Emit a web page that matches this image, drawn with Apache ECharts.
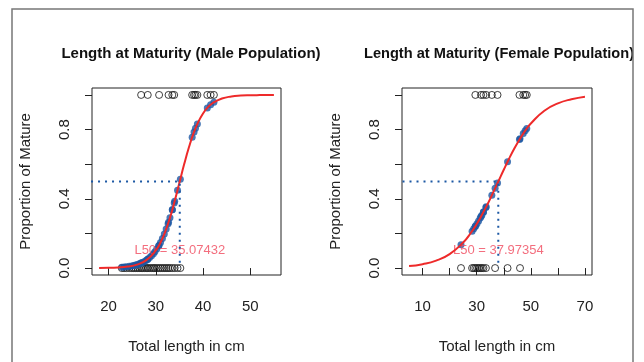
<!DOCTYPE html>
<html>
<head>
<meta charset="utf-8">
<script src="https://cdn.jsdelivr.net/npm/echarts@6/dist/echarts.min.js"></script>
<style>
  html, body { margin: 0; padding: 0; background: #fff; }
  #chart { width: 644px; height: 362px; }
</style>
</head>
<body>
<div id="chart"></div>
<script>
// fitted logistic curves
const maleCurveX = [18, 20, 22, 24, 26, 28, 30, 31, 32, 33, 34, 35, 36, 37, 38, 39, 40, 41, 42, 44, 46, 48, 50, 52, 55];
const maleCurveY = [0.001, 0.0015, 0.0036, 0.0085, 0.0198, 0.0457, 0.102, 0.148, 0.211, 0.291, 0.387, 0.493, 0.599,
  0.696, 0.779, 0.844, 0.893, 0.928, 0.952, 0.979, 0.991, 0.996, 0.998, 0.999, 1.0];
const femaleCurveX = [5, 10, 15, 20, 25, 28, 30, 32, 34, 36, 38, 40, 42, 44, 46, 48, 50, 55, 60, 65, 70];
const femaleCurveY = [0.0115, 0.0224, 0.043, 0.081, 0.148, 0.207, 0.254, 0.309, 0.369, 0.434, 0.501, 0.568, 0.633,
  0.693, 0.747, 0.795, 0.835, 0.909, 0.951, 0.975, 0.99];

// observed lengths (immature = 0, mature = 1) and their fitted proportions
const maleImmLen = [22.8, 23.3, 23.8, 24.4, 24.9, 25.3, 25.7, 26.1, 26.5, 26.9, 27.2, 27.6, 28.0, 28.3, 28.7,
  29.1, 29.5, 29.8, 30.2, 30.6, 31.0, 31.4, 31.8, 32.2, 32.6, 33.0, 33.5, 34.0, 34.6, 35.2];
const maleImmProb = [0.0051, 0.0063, 0.0078, 0.0100, 0.0124, 0.0147, 0.0175, 0.0207, 0.0245, 0.0289, 0.0328,
  0.0386, 0.0456, 0.0516, 0.0606, 0.0712, 0.0834, 0.0938, 0.1095, 0.1274, 0.1478, 0.1709, 0.1966, 0.2252,
  0.2566, 0.2907, 0.3369, 0.3865, 0.4492, 0.5135];
const maleMatLen = [26.9, 28.3, 30.7, 32.7, 33.5, 33.9, 37.7, 38.1, 38.4, 38.8, 40.9, 41.6, 42.3];
const maleMatProb = [0.0289, 0.0516, 0.1322, 0.2648, 0.3369, 0.3764, 0.7557, 0.786, 0.807, 0.832, 0.9245, 0.943, 0.957];

const femaleImmLen = [24.2, 28.3, 28.9, 29.5, 30.1, 30.7, 31.3, 31.9, 32.5, 33.4, 36.8, 41.4, 46.0];
const femaleImmProb = [0.1348, 0.2131, 0.2271, 0.2416, 0.2567, 0.2725, 0.2889, 0.3058, 0.3232, 0.3504, 0.4604,
  0.6135, 0.7472];
const femaleMatLen = [29.5, 31.6, 32.5, 33.5, 35.6, 37.7, 45.8, 47.2, 47.9, 48.5];
const femaleMatProb = [0.2416, 0.2973, 0.3232, 0.3535, 0.4205, 0.4908, 0.742, 0.7765, 0.7925, 0.8055];

const maleL50 = 35.07432;
const femaleL50 = 37.97354;

const titles = ['Length at Maturity (Male Population)', 'Length at Maturity (Female Population)'];
const yTicks = [0, 0.2, 0.4, 0.6, 0.8, 1.0];
const yLabels = [0, 0.4, 0.8];
const maleXTicks = [20, 30, 40, 50];
const femaleXTicks = [10, 20, 30, 40, 50, 60, 70];
const femaleXLabels = [10, 30, 50, 70];

const zip = (a, b) => a.map((v, i) => [v, b[i]]);

var chart = echarts.init(document.getElementById('chart'));

const makeX = (idx, min, max, ticks, labels) => ({
    type: 'value', gridIndex: idx, min: min, max: max,
    name: 'Total length in cm', nameLocation: 'middle', nameGap: 64,
    nameTextStyle: {fontFamily: 'Liberation Sans', fontSize: 15, color: '#222'},
    axisLine: {show: false},
    axisTick: {show: true, length: 7, lineStyle: {color: '#222'}, customValues: ticks},
    axisLabel: {fontFamily: 'Liberation Sans', fontSize: 15, color: '#222', margin: 24, customValues: labels},
    splitLine: {show: false}
});

const makeY = idx => ({
    type: 'value', gridIndex: idx, min: -0.04, max: 1.04,
    name: 'Proportion of Mature', nameLocation: 'middle', nameGap: 59,
    nameTextStyle: {fontFamily: 'Liberation Sans', fontSize: 15, color: '#222'},
    axisLine: {show: false},
    axisTick: {show: true, length: 7, lineStyle: {color: '#222'}, customValues: yTicks},
    axisLabel: {fontFamily: 'Liberation Sans', fontSize: 15, color: '#222', margin: 20, rotate: 90,
        customValues: yLabels, formatter: v => Number(v).toFixed(1)},
    splitLine: {show: false}
});

const panelSeries = (idx, curveX, curveY, immLen, immProb, matLen, matProb, l50) => [
    {
        type: 'scatter', xAxisIndex: idx, yAxisIndex: idx, symbolSize: 7, silent: true,
        itemStyle: {color: 'rgba(0,0,0,0)', borderColor: '#111', borderWidth: 1},
        data: immLen.map(v => [v, 0]).concat(matLen.map(v => [v, 1]))
    },
    {
        type: 'line', xAxisIndex: idx, yAxisIndex: idx, smooth: true, showSymbol: false, silent: true,
        lineStyle: {color: '#ee2a2a', width: 2},
        data: zip(curveX, curveY)
    },
    {
        type: 'scatter', xAxisIndex: idx, yAxisIndex: idx, symbolSize: 7, silent: true,
        itemStyle: {color: '#1c58a4'},
        data: zip(immLen, immProb).concat(zip(matLen, matProb))
    },
    {
        type: 'line', xAxisIndex: idx, yAxisIndex: idx, showSymbol: false, silent: true,
        lineStyle: {color: '#1c58a4', width: 2, type: [2, 5]},
        data: [[0, 0.5], [l50, 0.5], [l50, 0]]
    },
    {
        type: 'scatter', xAxisIndex: idx, yAxisIndex: idx, symbolSize: 1, silent: true,
        itemStyle: {color: 'rgba(0,0,0,0)'},
        label: {show: true, position: 'inside', formatter: 'L50 = ' + l50,
            fontFamily: 'Liberation Sans', fontSize: 13, color: '#f04a5e'},
        data: [[l50, 0.1]]
    }
];

option = {
    animation: false,
    backgroundColor: '#fff',
    title: [
        {text: titles[0], left: 186, top: 41, textAlign: 'center',
            textStyle: {fontFamily: 'Liberation Sans', fontSize: 15, fontWeight: 'bold', color: '#111'}},
        {text: titles[1], left: 494, top: 41, textAlign: 'center',
            textStyle: {fontFamily: 'Liberation Sans', fontSize: 14.6, fontWeight: 'bold', color: '#111'}}
    ],
    grid: [
        {left: 92, top: 88, width: 189, height: 187, show: true, borderColor: '#222', borderWidth: 1,
            backgroundColor: 'transparent'},
        {left: 402, top: 88, width: 190, height: 187, show: true, borderColor: '#222', borderWidth: 1,
            backgroundColor: 'transparent'}
    ],
    xAxis: [makeX(0, 16.5, 56.5, maleXTicks, maleXTicks), makeX(1, 2.4, 72.6, femaleXTicks, femaleXLabels)],
    yAxis: [makeY(0), makeY(1)],
    graphic: [
        // the picture is cut off past the right frame line
        {type: 'rect', silent: true, z: 100, shape: {x: 633, y: 0, width: 11, height: 362}, style: {fill: '#fff'}},
        {
            type: 'polyline', silent: true, z: 101,
            shape: {points: [[12, 362], [12, 9], [633, 9], [633, 362]]},
            style: {stroke: '#777', lineWidth: 1.5, fill: null}
        }
    ],
    series: panelSeries(0, maleCurveX, maleCurveY, maleImmLen, maleImmProb, maleMatLen, maleMatProb, maleL50)
        .concat(panelSeries(1, femaleCurveX, femaleCurveY, femaleImmLen, femaleImmProb, femaleMatLen, femaleMatProb, femaleL50))
};

chart.setOption(option);
</script>
</body>
</html>
